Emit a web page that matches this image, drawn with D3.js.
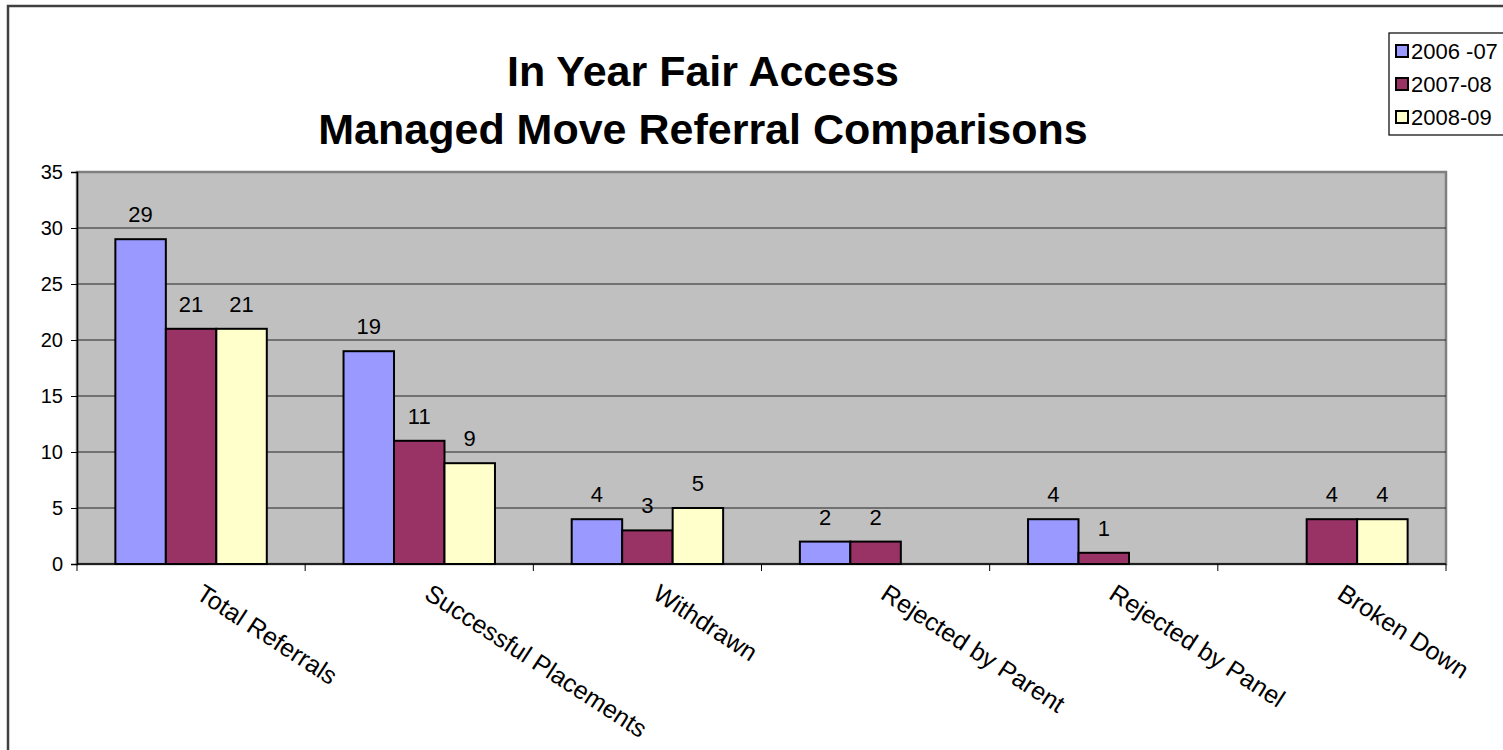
<!DOCTYPE html>
<head>
    <meta charset="utf-8">
    <title>In Year Fair Access</title>
</head>
<style>
    body { margin: 0; background: #fff; }
    svg { display: block; font-family: Arial, "Liberation Sans", sans-serif; }
    .grid line { stroke: #222; stroke-width: 1px; }
    .bar { stroke: #000; stroke-width: 2px; }
</style>
<body>
<script src="https://d3js.org/d3.v7.min.js"></script>
<script>
    var width = 1503,
        height = 750;

    var categories = ["Total Referrals", "Successful Placements", "Withdrawn",
                      "Rejected by Parent", "Rejected by Panel", "Broken Down"];
    var seriesNames = ["2006 -07", "2007-08", "2008-09"];
    var seriesColors = ["#9999ff", "#993366", "#ffffcc"];
    var values2006 = [29, 19, 4, 2, 4, 0];
    var values2007 = [21, 11, 3, 2, 1, 4];
    var values2008 = [21, 9, 5, 0, 0, 4];
    var yTicks = [0, 5, 10, 15, 20, 25, 30, 35];

    var series = [values2006, values2007, values2008];

    var plot = {left: 77, right: 1446, top: 172, bottom: 564};

    var svg = d3.select("body").append("svg")
        .attr("width", width)
        .attr("height", height);

    // outer chart border
    svg.append("rect")
        .attr("x", 8).attr("y", 6)
        .attr("width", width + 20).attr("height", height + 20)
        .attr("fill", "#fff")
        .attr("stroke", "#404040")
        .attr("stroke-width", 2.5);

    var x = d3.scaleBand()
        .domain(categories)
        .range([plot.left, plot.right]);
    var inner = d3.scaleBand()
        .domain(d3.range(seriesNames.length))
        .range([0, x.bandwidth()])
        .paddingOuter(0.76);
    var y = d3.scaleLinear()
        .domain([0, 35])
        .range([plot.bottom, plot.top]);

    // plot area
    svg.append("rect")
        .attr("x", plot.left).attr("y", plot.top)
        .attr("width", plot.right - plot.left)
        .attr("height", plot.bottom - plot.top)
        .attr("fill", "#c0c0c0")
        .attr("stroke", "#808080")
        .attr("stroke-width", 2.5);

    svg.append("g")
        .attr("class", "grid")
        .selectAll("line")
        .data(yTicks.filter(function (d) { return d > 0 && d < 35; }))
        .join("line")
        .attr("x1", plot.left).attr("x2", plot.right)
        .attr("y1", function (d) { return y(d); })
        .attr("y2", function (d) { return y(d); });

    // bars
    series.forEach(function (vals, s) {
        var g = svg.append("g");
        g.selectAll("rect")
            .data(vals)
            .join("rect")
            .attr("class", "bar")
            .attr("fill", seriesColors[s])
            .attr("x", function (d, i) { return x(categories[i]) + inner(s); })
            .attr("width", inner.bandwidth())
            .attr("y", function (d) { return y(d); })
            .attr("height", function (d) { return y(0) - y(d); })
            .style("display", function (d) { return d > 0 ? null : "none"; });
        g.selectAll("text")
            .data(vals)
            .join("text")
            .attr("x", function (d, i) { return x(categories[i]) + inner(s) + inner.bandwidth() / 2; })
            .attr("y", function (d) { return y(d) - 17; })
            .attr("text-anchor", "middle")
            .attr("font-size", 22)
            .text(function (d) { return d > 0 ? d : ""; });
    });

    // y axis
    var yAxis = d3.axisLeft(y).tickValues(yTicks).tickSize(6).tickPadding(8);
    var ya = svg.append("g")
        .attr("transform", "translate(" + plot.left + ",0)")
        .call(yAxis);
    ya.select(".domain").attr("stroke", "#000").attr("stroke-width", 1.5);
    ya.selectAll(".tick line").attr("stroke", "#000");
    ya.selectAll(".tick text").attr("font-size", 20).attr("font-family", "Arial, 'Liberation Sans', sans-serif").attr("fill", "#000");

    // x axis line and category tick marks
    svg.append("line")
        .attr("x1", plot.left).attr("x2", plot.right)
        .attr("y1", plot.bottom).attr("y2", plot.bottom)
        .attr("stroke", "#000").attr("stroke-width", 1.5);
    svg.append("g")
        .selectAll("line")
        .data(categories.concat([null]))
        .join("line")
        .attr("x1", function (d) { return d ? x(d) : plot.right; })
        .attr("x2", function (d) { return d ? x(d) : plot.right; })
        .attr("y1", plot.bottom).attr("y2", plot.bottom + 7)
        .attr("stroke", "#000");

    svg.append("g")
        .selectAll("text")
        .data(categories)
        .join("text")
        .attr("transform", function (d) {
            return "translate(" + (x(d) + x.bandwidth() / 2 + 14) + "," + (plot.bottom + 18) + ") rotate(33)";
        })
        .attr("dy", "0.75em")
        .attr("font-size", 25)
        .text(function (d) { return d; });

    // title
    var title = svg.append("text")
        .attr("text-anchor", "middle")
        .attr("font-weight", "bold")
        .attr("font-size", 43);
    title.append("tspan").attr("x", 703).attr("y", 86).text("In Year Fair Access");
    title.append("tspan").attr("x", 703).attr("y", 144).text("Managed Move Referral Comparisons");

    // legend
    var legend = svg.append("g");
    legend.append("rect")
        .attr("x", 1389).attr("y", 33)
        .attr("width", 140).attr("height", 102)
        .attr("fill", "#fff")
        .attr("stroke", "#000")
        .attr("stroke-width", 1.2);
    var items = legend.selectAll("g.item")
        .data(seriesNames)
        .join("g")
        .attr("class", "item")
        .attr("transform", function (d, i) { return "translate(1396," + (51 + i * 33) + ")"; });
    items.append("rect")
        .attr("x", 0).attr("y", -6)
        .attr("width", 12).attr("height", 12)
        .attr("fill", function (d, i) { return seriesColors[i]; })
        .attr("stroke", "#000").attr("stroke-width", 2);
    items.append("text")
        .attr("x", 15).attr("dy", "0.35em")
        .attr("font-size", 22)
        .text(function (d) { return d; });
</script>
</body>
